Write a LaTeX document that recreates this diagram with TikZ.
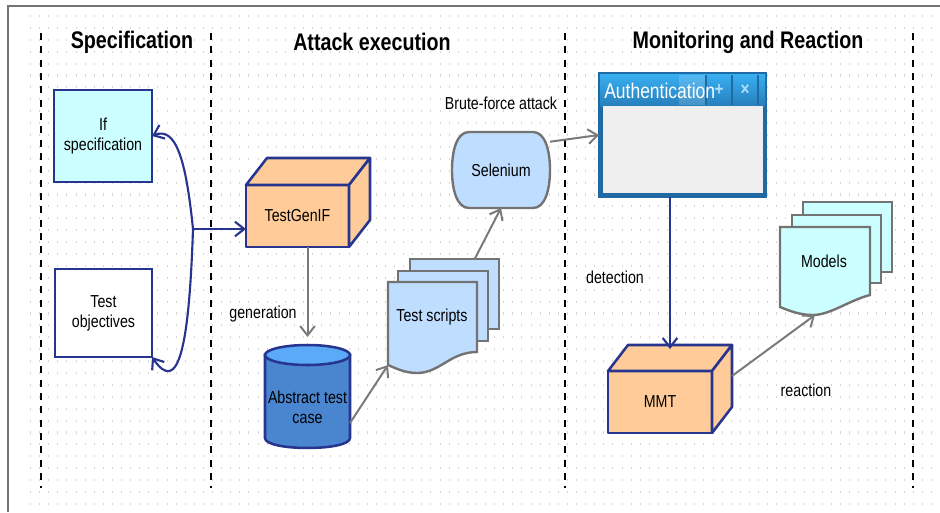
\documentclass[tikz,border=0pt]{standalone}
\usepackage{fontspec}
\setmainfont{Liberation Sans}[FakeStretch=0.82]
\usepackage{xcolor}
\usetikzlibrary{arrows.meta}
\definecolor{NavyBlue}{HTML}{27358F}
\definecolor{BoxOrange}{HTML}{FFCC99}
\definecolor{SpecCyan}{HTML}{CCFFFF}
\definecolor{ScriptBlue}{HTML}{BFDDFF}
\definecolor{EdgeGray}{HTML}{737373}
\definecolor{ArrowGray}{HTML}{7A7A7A}
\definecolor{CaseBlue}{HTML}{4A86CF}
\definecolor{CaseTop}{HTML}{5BAAF8}
\definecolor{WinDark}{HTML}{1F6AA3}
\definecolor{WinLight}{HTML}{38AFF2}
\definecolor{WinPanel}{HTML}{EFEFEF}
\definecolor{GridDot}{HTML}{D6D6D6}

\begin{document}
\begin{tikzpicture}[x=0.75pt,y=0.75pt,yscale=-1,xscale=1,
  txt/.style={font=\fontsize{13pt}{15pt}\selectfont, align=center, inner sep=0.75pt},
  heading/.style={font=\fontsize{18pt}{21pt}\selectfont\bfseries, inner sep=0.75pt},
  lane/.style={line width=1.6pt, dash pattern=on 5.2pt off 4.8pt},
  specbox/.style={draw=NavyBlue, line width=1.9pt, outer sep=0pt, txt},
  cube/.style={draw=NavyBlue, fill=BoxOrange, line width=1.9pt, outer sep=0pt, line join=round},
  sheet/.style={draw=EdgeGray, line width=1.8pt, outer sep=0pt},
  flow/.style={ArrowGray, line width=1.5pt, -{Straight Barb[length=7pt,width=11pt,line width=1.5pt]}},
  link/.style={NavyBlue, line width=1.6pt, -{Straight Barb[length=7pt,width=11pt,line width=1.6pt]}}
]
\useasboundingbox (0,0) rectangle (940,512);

%Background dots
\foreach \y in {16,27.9,...,504}
  \draw[GridDot, line width=1.6pt, dash pattern=on 0.7pt off 6.125pt] (30,\y) -- (936,\y);
%Frame
\draw[EdgeGray, line width=1.1pt] (8,512) -- (8,6) -- (940,6);
%Lanes
\foreach \x in {41,211,565,913}
  \draw[lane] (\x,33) -- (\x,488);

% Text Node
\node[heading] (hspec) at (132,42) {Specification};
% Text Node
\node[heading] (hattack) at (372,42) {Attack execution};
% Text Node
\node[heading] (hmonitor) at (748,42) {Monitoring and Reaction};

%Shape: Rectangle
\node[specbox, fill=SpecCyan, minimum width=73.5pt, minimum height=69pt] (spec) at (103,136) {If\\specification};
%Shape: Rectangle
\node[specbox, fill=white, minimum width=72.75pt, minimum height=66pt] (obj) at (103.5,313) {Test\\objectives};

%Shape: Cube
\node[cube, txt, minimum width=77.25pt, minimum height=46.5pt] (gen) at (297.5,216) {TestGenIF};
\draw[cube] (gen.north west) -- ++(21,-27) -- ++(103,0) -- (gen.north east) -- cycle;
\draw[cube] (gen.north east) -- ++(21,-27) -- ++(0,62) -- (gen.south east) -- cycle;

%Shape: Can
\draw[NavyBlue, line width=1.9pt, fill=CaseBlue] (265,355) -- (265,438) .. controls (265,451.3) and (350,451.3) .. (350,438) -- (350,355) -- cycle;
\draw[NavyBlue, line width=1.9pt, fill=CaseTop] (307.5,355) ellipse (42.5 and 10);
\node[minimum width=63.75pt, minimum height=77.25pt, outer sep=0pt] (abs) at (307.5,396.5) {};
% Text Node
\node[txt] (absLabel) at (307.5,407) {Abstract test\\case};

%Shape: Documents
\node[sheet, fill=ScriptBlue, minimum width=66.75pt, minimum height=52.5pt] (scripts3) at (454.5,294) {};
\node[sheet, fill=ScriptBlue, minimum width=67.5pt, minimum height=52.5pt] (scripts2) at (443,306) {};
\draw[sheet, fill=ScriptBlue] (388,282) -- (477,282) -- (477,352) .. controls (450,352) and (440,373) .. (417,373) .. controls (405,373) and (395,368) .. (388,365) -- cycle;
\node[minimum width=66.75pt, minimum height=62.25pt, outer sep=0pt] (scripts) at (432.5,323.5) {};
% Text Node
\node[txt] (scriptsLabel) at (432,317) {Test scripts};

%Shape: Bulged Box
\draw[sheet, fill=ScriptBlue] (469,132) -- (533,132) .. controls (545,132) and (550,150) .. (550,170) .. controls (550,190) and (545,208) .. (533,208) -- (469,208) .. controls (457,208) and (452,190) .. (452,170) .. controls (452,150) and (457,132) .. (469,132) -- cycle;
\node[minimum width=73.5pt, minimum height=57pt, outer sep=0pt, txt] (selenium) at (501,170) {Selenium};

%Shape: Window
\node[draw=WinDark, fill=WinDark, line width=1pt, minimum width=125.25pt, minimum height=93pt, outer sep=0pt] (auth) at (682.5,135) {};
\shade[top color=WinLight, bottom color=WinDark!70!WinLight] (600,74) rectangle (765,106);
\fill[white, opacity=0.15] (679,75) rectangle (706,105);
\draw[WinDark, line width=0.8pt] (706,75) -- (706,105) (732,75) -- (732,105) (758,75) -- (758,105);
\node[text=WinLight!40!white, font=\fontsize{14pt}{16pt}\selectfont\bfseries, inner sep=0pt] (plus) at (719,90) {+};
\node[text=WinLight!40!white, font=\fontsize{14pt}{16pt}\selectfont\bfseries, inner sep=0pt] (close) at (745,90) {×};
\draw[white!85!gray, fill=WinPanel] (603,106) rectangle (762,192);
% Text Node
\node[anchor=west, text=white, font=\fontsize{16pt}{18pt}\selectfont, inner sep=0pt] (authTitle) at (604,91) {Authentication};

%Shape: Cube
\node[cube, txt, minimum width=78pt, minimum height=46.5pt] (mmt) at (660,402) {MMT};
\draw[cube] (mmt.north west) -- ++(20,-26) -- ++(104,0) -- (mmt.north east) -- cycle;
\draw[cube] (mmt.north east) -- ++(20,-26) -- ++(0,62) -- (mmt.south east) -- cycle;

%Shape: Documents
\node[sheet, fill=SpecCyan, minimum width=66.75pt, minimum height=52.5pt] (models3) at (847.5,237) {};
\node[sheet, fill=SpecCyan, minimum width=66.75pt, minimum height=51pt] (models2) at (836.5,249) {};
\draw[sheet, fill=SpecCyan] (780,227) -- (870,227) -- (870,295) .. controls (850,300) and (830,315) .. (813,315) .. controls (800,315) and (790,311) .. (780,307) -- cycle;
\node[minimum width=67.5pt, minimum height=66pt, outer sep=0pt] (models) at (825,271) {};
% Text Node
\node[txt] (modelsLabel) at (824,261) {Models};

%Connectors
\coordinate (fork) at (193,229);
\draw[link] (fork) -- (fork -| gen.west);
\draw[link] (fork) .. controls (186,160) and (176,126) .. (spec.east);
\draw[link] (fork) .. controls (189,350) and (178,395) .. (obj.south east);
\draw[flow, shorten >=6pt] (gen.south -| abs.north) -- (abs.north);
\draw[flow] (abs.-32) -- (scripts.south west);
\draw[flow] (scripts3.60) -- (selenium.south);
\draw[flow] (selenium.30) -- (auth.west);
\coordinate (mmtin) at (670,349);
\draw[link] (auth.south -| mmtin) -- (mmtin);
\coordinate (mmtside) at (732,376);
\draw[flow] (mmtside) -- ([xshift=-7.5pt]models.south);

% Text Node
\node[txt] (brute) at (501,103) {Brute-force attack};
% Text Node
\node[txt] (genLabel) at (263,314) {generation};
% Text Node
\node[txt] (detect) at (615,277) {detection};
% Text Node
\node[txt] (react) at (806,390) {reaction};

\end{tikzpicture}
\end{document}
